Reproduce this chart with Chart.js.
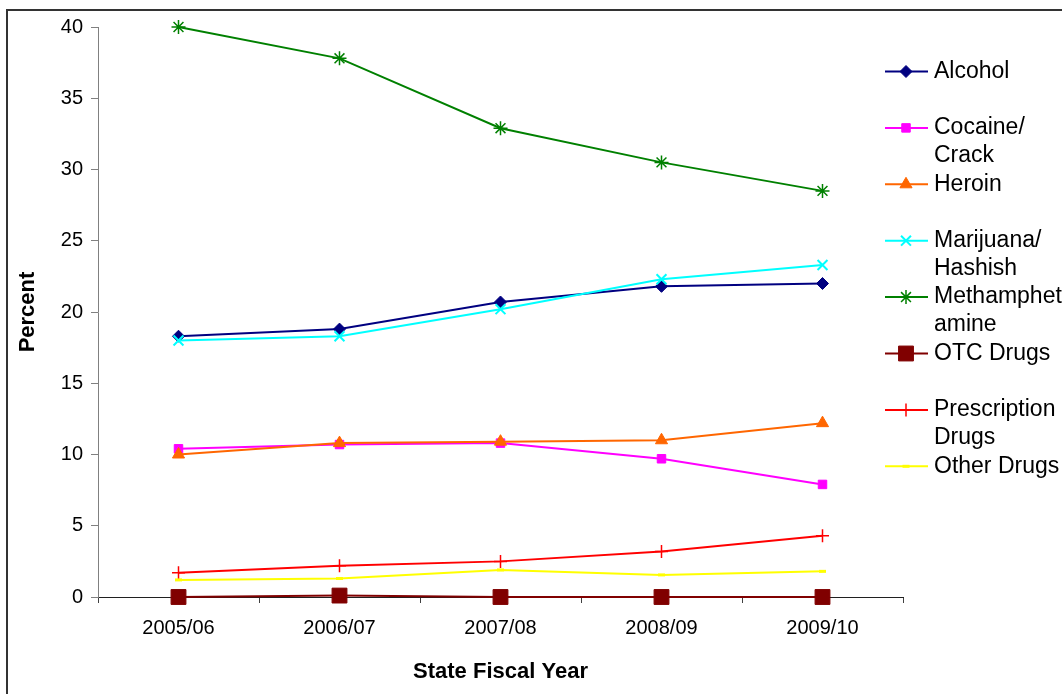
<!DOCTYPE html>
<html>
<head>
<meta charset="utf-8">
<script src="https://cdn.jsdelivr.net/npm/chart.js@4/dist/chart.umd.min.js"></script>
<style>
  html, body { margin: 0; padding: 0; background: #fff; overflow: hidden; }
  #wrap { position: relative; width: 1062px; height: 694px; }
  #frame { position: absolute; left: 6px; top: 9px; width: 1100px; height: 720px;
           border-left: 2px solid #333; border-top: 2px solid #333; pointer-events: none; }
  canvas { position: absolute; left: 0; top: 0; }
</style>
</head>
<body>
<div id="wrap">
  <canvas id="c" width="1062" height="694"></canvas>
  <div id="frame"></div>
</div>
<script>
// Fiscal years on the x axis
const years = ['2005/06', '2006/07', '2007/08', '2008/09', '2009/10'];

// Percent of admissions by primary substance
const alcohol      = [18.3, 18.8, 20.7, 21.8, 22.0];
const cocaine      = [10.4, 10.7, 10.8, 9.7, 7.9];
const heroin       = [10.0, 10.8, 10.9, 11.0, 12.2];
const marijuana    = [18.0, 18.3, 20.2, 22.3, 23.3];
const meth         = [40.0, 37.8, 32.9, 30.5, 28.5];
const otc          = [0.0, 0.1, 0.0, 0.0, 0.0];
const prescription = [1.7, 2.2, 2.5, 3.2, 4.3];
const otherDrugs   = [1.2, 1.3, 1.9, 1.55, 1.8];

// Legend text, one array of lines per series
const legendLines = [
  ['Alcohol'],
  ['Cocaine/', 'Crack'],
  ['Heroin'],
  ['Marijuana/', 'Hashish'],
  ['Methamphet', 'amine'],
  ['OTC Drugs'],
  ['Prescription', 'Drugs'],
  ['Other Drugs']
];

// Y axis ticks
const yMin = 0, yMax = 40, yStep = 5;

const FONT = '"Liberation Sans", Arial, Helvetica, sans-serif';
Chart.defaults.font.family = FONT;
Chart.defaults.color = '#000';

function series(label, data, color, style, radius, bw, n) {
  return {
    label: label,
    data: data,
    borderColor: color,
    backgroundColor: color,
    pointBackgroundColor: color,
    pointBorderColor: color,
    pointStyle: style,
    pointRadius: radius,
    pointHoverRadius: radius,
    pointBorderWidth: bw,
    borderWidth: 2,
    tension: 0,
    clip: false,
    order: 10 - n
  };
}

const datasets = [
  series('Alcohol', alcohol, '#000080', 'rectRot', 6, 1, 0),
  series('Cocaine/Crack', cocaine, '#FF00FF', 'rect', 6, 1, 1),
  series('Heroin', heroin, '#FF6600', 'triangle', 7, 1, 2),
  series('Marijuana/Hashish', marijuana, '#00FFFF', 'crossRot', 7, 2, 3),
  series('Methamphetamine', meth, '#008000', 'star', 7, 1.5, 4),
  series('OTC Drugs', otc, '#800000', 'rect', 10.5, 1, 5),
  series('Prescription Drugs', prescription, '#FF0000', 'cross', 6.5, 1.5, 6),
  series('Other Drugs', otherDrugs, '#FFFF00', 'line', 3.5, 3, 7)
];

// Legend drawn at the right of the plot: line segment with marker, then wrapped text
const sideLegend = {
  id: 'sideLegend',
  afterDraw(chart) {
    const ctx = chart.ctx;
    const x0 = 885, x1 = 928, xm = 906, xt = 934;
    const top = 71.5, step = 56.4, lineGap = 28;
    ctx.save();
    chart.data.datasets.forEach((ds, i) => {
      const y = top + i * step;
      ctx.strokeStyle = ds.borderColor;
      ctx.lineWidth = 2;
      ctx.beginPath();
      ctx.moveTo(x0, y);
      ctx.lineTo(x1, y);
      ctx.stroke();
      ctx.fillStyle = ds.pointBackgroundColor;
      ctx.strokeStyle = ds.pointBorderColor;
      ctx.lineWidth = ds.pointBorderWidth;
      Chart.helpers.drawPoint(ctx, {
        pointStyle: ds.pointStyle,
        radius: ds.pointRadius,
        borderWidth: ds.pointBorderWidth,
        rotation: 0
      }, xm, y);
      ctx.fillStyle = '#000';
      ctx.font = '23px ' + FONT;
      ctx.textBaseline = 'middle';
      ctx.textAlign = 'left';
      legendLines[i].forEach((t, k) => ctx.fillText(t, xt, y + k * lineGap));
    });
    ctx.restore();
  }
};

new Chart(document.getElementById('c'), {
  type: 'line',
  data: { labels: years, datasets: datasets },
  plugins: [sideLegend],
  options: {
    responsive: false,
    animation: false,
    events: [],
    layout: { padding: { top: 27, right: 159, bottom: 0, left: 0 } },
    plugins: { legend: { display: false }, tooltip: { enabled: false } },
    scales: {
      x: {
        type: 'category',
        offset: true,
        grid: { offset: true, drawOnChartArea: false, drawTicks: true, tickLength: 6, color: '#404040' },
        border: { color: '#202020', width: 1 },
        ticks: { font: { size: 20 }, padding: 13, maxRotation: 0, color: '#000' },
        title: { display: true, text: 'State Fiscal Year', font: { size: 22, weight: 'bold' }, padding: { bottom: 9, top: 0 }, color: '#000' },
        afterFit(scale) { scale.height = 97; }
      },
      y: {
        min: yMin,
        max: yMax,
        grid: { drawOnChartArea: false, drawTicks: true, tickLength: 7, color: '#808080' },
        border: { color: '#808080', width: 1 },
        ticks: { stepSize: yStep, font: { size: 20 }, padding: 8, color: '#000' },
        title: { display: true, text: 'Percent', font: { size: 22, weight: 'bold' }, padding: { top: 15, bottom: 0 }, color: '#000' },
        afterFit(scale) { scale.width = 98; }
      }
    }
  }
});
</script>
</body>
</html>
